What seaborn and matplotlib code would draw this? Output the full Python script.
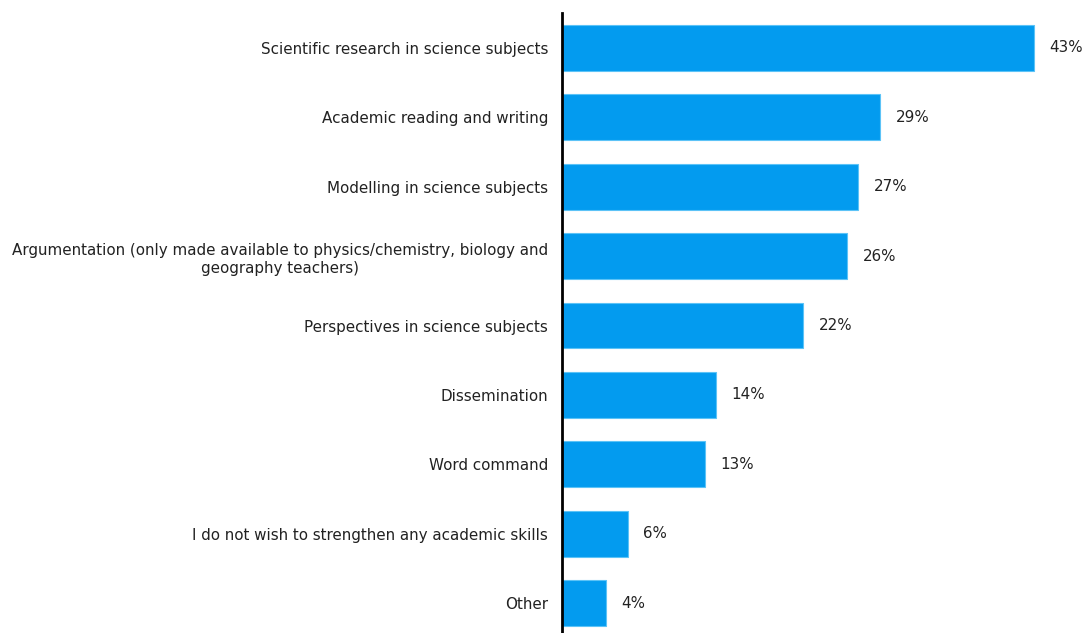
import matplotlib
matplotlib.use("Agg")
import matplotlib.pyplot as plt
import seaborn as sns
import pandas as pd

skills = [
    "Scientific research in science subjects",
    "Academic reading and writing",
    "Modelling in science subjects",
    "Argumentation (only made available to physics/chemistry, biology and\ngeography teachers)",
    "Perspectives in science subjects",
    "Dissemination",
    "Word command",
    "I do not wish to strengthen any academic skills",
    "Other",
]
shares = [43, 29, 27, 26, 22, 14, 13, 6, 4]

df = pd.DataFrame({"skill": skills, "share": shares})

sns.set_theme(style="white")
plt.rcParams["font.family"] = ["DejaVu Sans"]

fig = plt.figure(figsize=(10.86, 6.33), dpi=100)
ax = fig.add_axes([562 / 1086, -5 / 633, (1080 - 562) / 1086, (633 - 13 + 5) / 633])

sns.barplot(data=df, x="share", y="skill", orient="h", color="#039BEF",
            edgecolor="#5CC3F7", linewidth=0.8, width=0.66, saturation=1, ax=ax)

for c in ax.containers:
    ax.bar_label(c, labels=[f"{v}%" for v in shares], padding=11,
                 fontsize=10.9, color="#222222")

ax.set_xlim(0, 47.2)
ax.set_ylim(8.5, -0.5)
ax.set_xlabel("")
ax.set_ylabel("")
ax.set_xticks([])
ax.tick_params(axis="y", length=0, pad=10, labelsize=10.9, labelcolor="#222222")
for lab in ax.get_yticklabels():
    lab.set_multialignment("center")
    lab.set_linespacing(1.3)

for side in ["top", "right", "bottom"]:
    ax.spines[side].set_visible(False)
ax.spines["left"].set_color("black")
ax.spines["left"].set_linewidth(2)

fig.savefig("out.png", dpi=100)
